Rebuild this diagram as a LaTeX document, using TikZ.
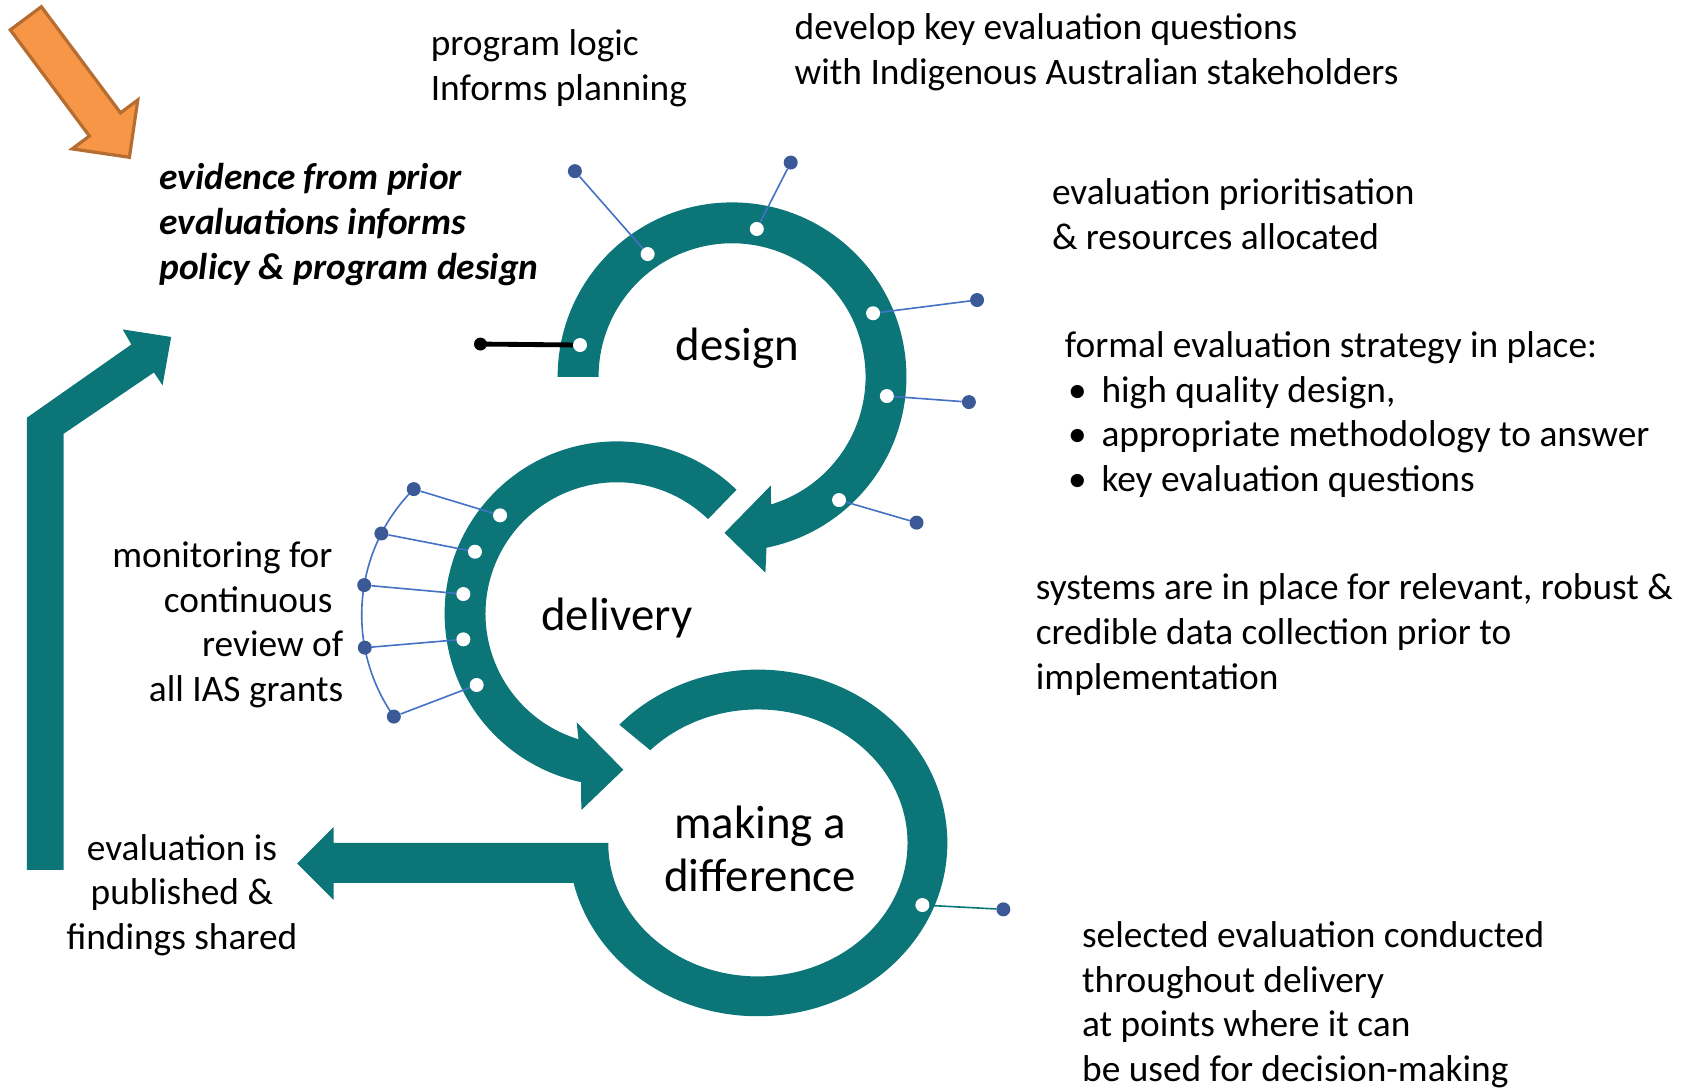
\documentclass[tikz,border=0pt]{standalone}
\usepackage{fontspec}
\setmainfont{Carlito}
\usepackage{tikz}
\usetikzlibrary{calc}
\definecolor{myteal}{RGB}{11,117,120}
\definecolor{myblue}{RGB}{68,114,196}
\definecolor{mydarkblue}{RGB}{59,89,150}
\definecolor{myorange}{RGB}{247,150,70}
\definecolor{myorangeline}{RGB}{182,109,49}
\newcommand{\stratbullet}{\makebox[34pt][l]{\hspace*{3pt}\textbullet}}

\begin{document}
\begin{tikzpicture}[x=1pt,y=1pt,
  every node/.style={inner sep=0pt},
  txt/.style={font=\fontsize{34.7}{41.6}\selectfont, align=left, anchor=base west},
  stage/.style={font=\fontsize{43.5}{49}\selectfont, align=center, anchor=base},
  ring/.style={fill=myteal},
  wdot/.style={circle,fill=white,minimum size=13pt},
  bdot/.style={circle,fill=mydarkblue,minimum size=13pt},
  link/.style={myblue,line width=1.5pt}
]
\useasboundingbox (0,0) rectangle (1568,-1011);

% centres of the rings
\coordinate (D) at (680,-350);
\coordinate (V) at (573,-570);
\coordinate (M) at (704,-783);
\coordinate (arcc) at (501,-571);

% the orange arrow
\begin{scope}[shift={(24,-17)},rotate=-53.3]
\draw[myorangeline,fill=myorange,line width=3pt,line join=miter]
  (0,18) -- (123,18) -- (123,38) -- (161,0) -- (123,-38) -- (123,-18) -- (0,-18) -- cycle;
\end{scope}

% the bent arrow back to the evidence
\fill[ring] (25,-808) -- (25,-388) -- (122,-320) -- (114,-306) -- (159,-313)
  -- (151,-358) -- (143,-346) -- (59,-403) -- (59,-808) -- cycle;

% the design ring
\fill[ring] ($(D)+(180:162)$) arc[start angle=180,end angle=-78.6,radius=162]
  -- (711,-532) -- (673,-495) -- (716,-451) -- ($(D)+(-73:124)$)
  arc[start angle=-73,end angle=180,radius=124] -- cycle;

% the delivery ring
\fill[ring] ($(V)+(46:160)$) arc[start angle=46,end angle=258,radius=160]
  -- (540,-752.5) -- (579,-715) -- (535.7,-671) -- ($(V)+(253:122)$)
  arc[start angle=253,end angle=46,radius=122] -- cycle;

% the making a difference ring and the arrow to the left
\fill[ring] ($(M)+(137:176 and 161)$)
  arc[start angle=137,end angle=-166.7,x radius=176,y radius=161]
  -- (310,-820) -- (310,-836) -- (276,-802) -- (310,-768) -- (310,-783)
  -- ($(M)+(180:139 and 124)$)
  arc[start angle=180,end angle=496,x radius=139,y radius=124] -- cycle;

% the labels of the stages
\node[stage] (design) at (685,-334.5) {design};
\node[stage] (delivery) at (573,-586) {delivery};
\node[stage] (making) at (706,-828) {making a\\difference};

% the dots of the design ring
\foreach \wx/\wy/\bx/\by [count=\i] in {601.6/-236/534/-159, 703/-212.7/734.5/-151,
    811/-291/907.6/-278.7, 823.8/-367.9/900/-373.5, 779.4/-464.5/851.4/-485.5} {
  \node[wdot] (dw\i) at (\wx,\wy) {};
  \node[bdot] (db\i) at (\bx,\by) {};
  \draw[link] (db\i) -- (dw\i);
}
\node[wdot] (dw6) at (538.8,-320.5) {};
\node[circle,fill=black,minimum size=12pt] (db6) at (446.3,-319.6) {};
\draw[line width=4.5pt] (db6.center) -- (dw6);

% the dots of the delivery ring
\draw[link] ($(arcc)+(135:165)$) arc[start angle=135,end angle=215,radius=165];
\foreach \wx/\wy/\ang [count=\i] in {464.5/-478.7/135, 441.2/-512.5/152.8,
    430.4/-551.8/170.4, 430.4/-593.9/190.7, 442.8/-636.3/215} {
  \node[wdot] (vw\i) at (\wx,\wy) {};
  \node[bdot] (vb\i) at ($(arcc)+(\ang:165)$) {};
  \draw[link] (vb\i) -- (vw\i);
}

% the dot of the making a difference ring
\node[wdot] (mw1) at (856.8,-840.7) {};
\node[bdot] (mb1) at (932,-844.7) {};
\draw[myteal,line width=1.5pt] (mb1) -- (mw1);

% the texts (anchored at the baseline of their last line)
\node[txt] (plogic) at (400,-93.6) {program logic\\Informs planning};
\node[txt] (keyq) at (738,-78.6) {develop key evaluation questions\\with Indigenous Australian stakeholders};
\node[txt,font=\fontsize{34.7}{41.6}\selectfont\bfseries\itshape] (evidence) at (148,-259.2)
  {evidence from prior\\evaluations informs\\policy \& program design};
\node[txt] (prior) at (977,-231.6) {evaluation prioritisation\\\& resources allocated};
\node[txt] (strategy) at (989,-456.8) {formal evaluation strategy in place:\\
  \stratbullet high quality design,\\\stratbullet appropriate methodology to answer\\
  \stratbullet key evaluation questions};
\node[txt] (systems) at (962,-640.2) {systems are in place for relevant, robust \&\\
  credible data collection prior to\\implementation};
\node[txt,align=right,anchor=base east] (monitor) at (319,-651.8)
  {monitoring for\kern10pt\\continuous\kern10pt\\review of\\all IAS grants};
\node[txt,align=center,anchor=base] (published) at (169,-882.2)
  {evaluation is\\published \&\\findings shared};
\node[txt] (selected) at (1005,-1004.8) {selected evaluation conducted\\throughout delivery\\
  at points where it can\\be used for decision-making};
\end{tikzpicture}
\end{document}
